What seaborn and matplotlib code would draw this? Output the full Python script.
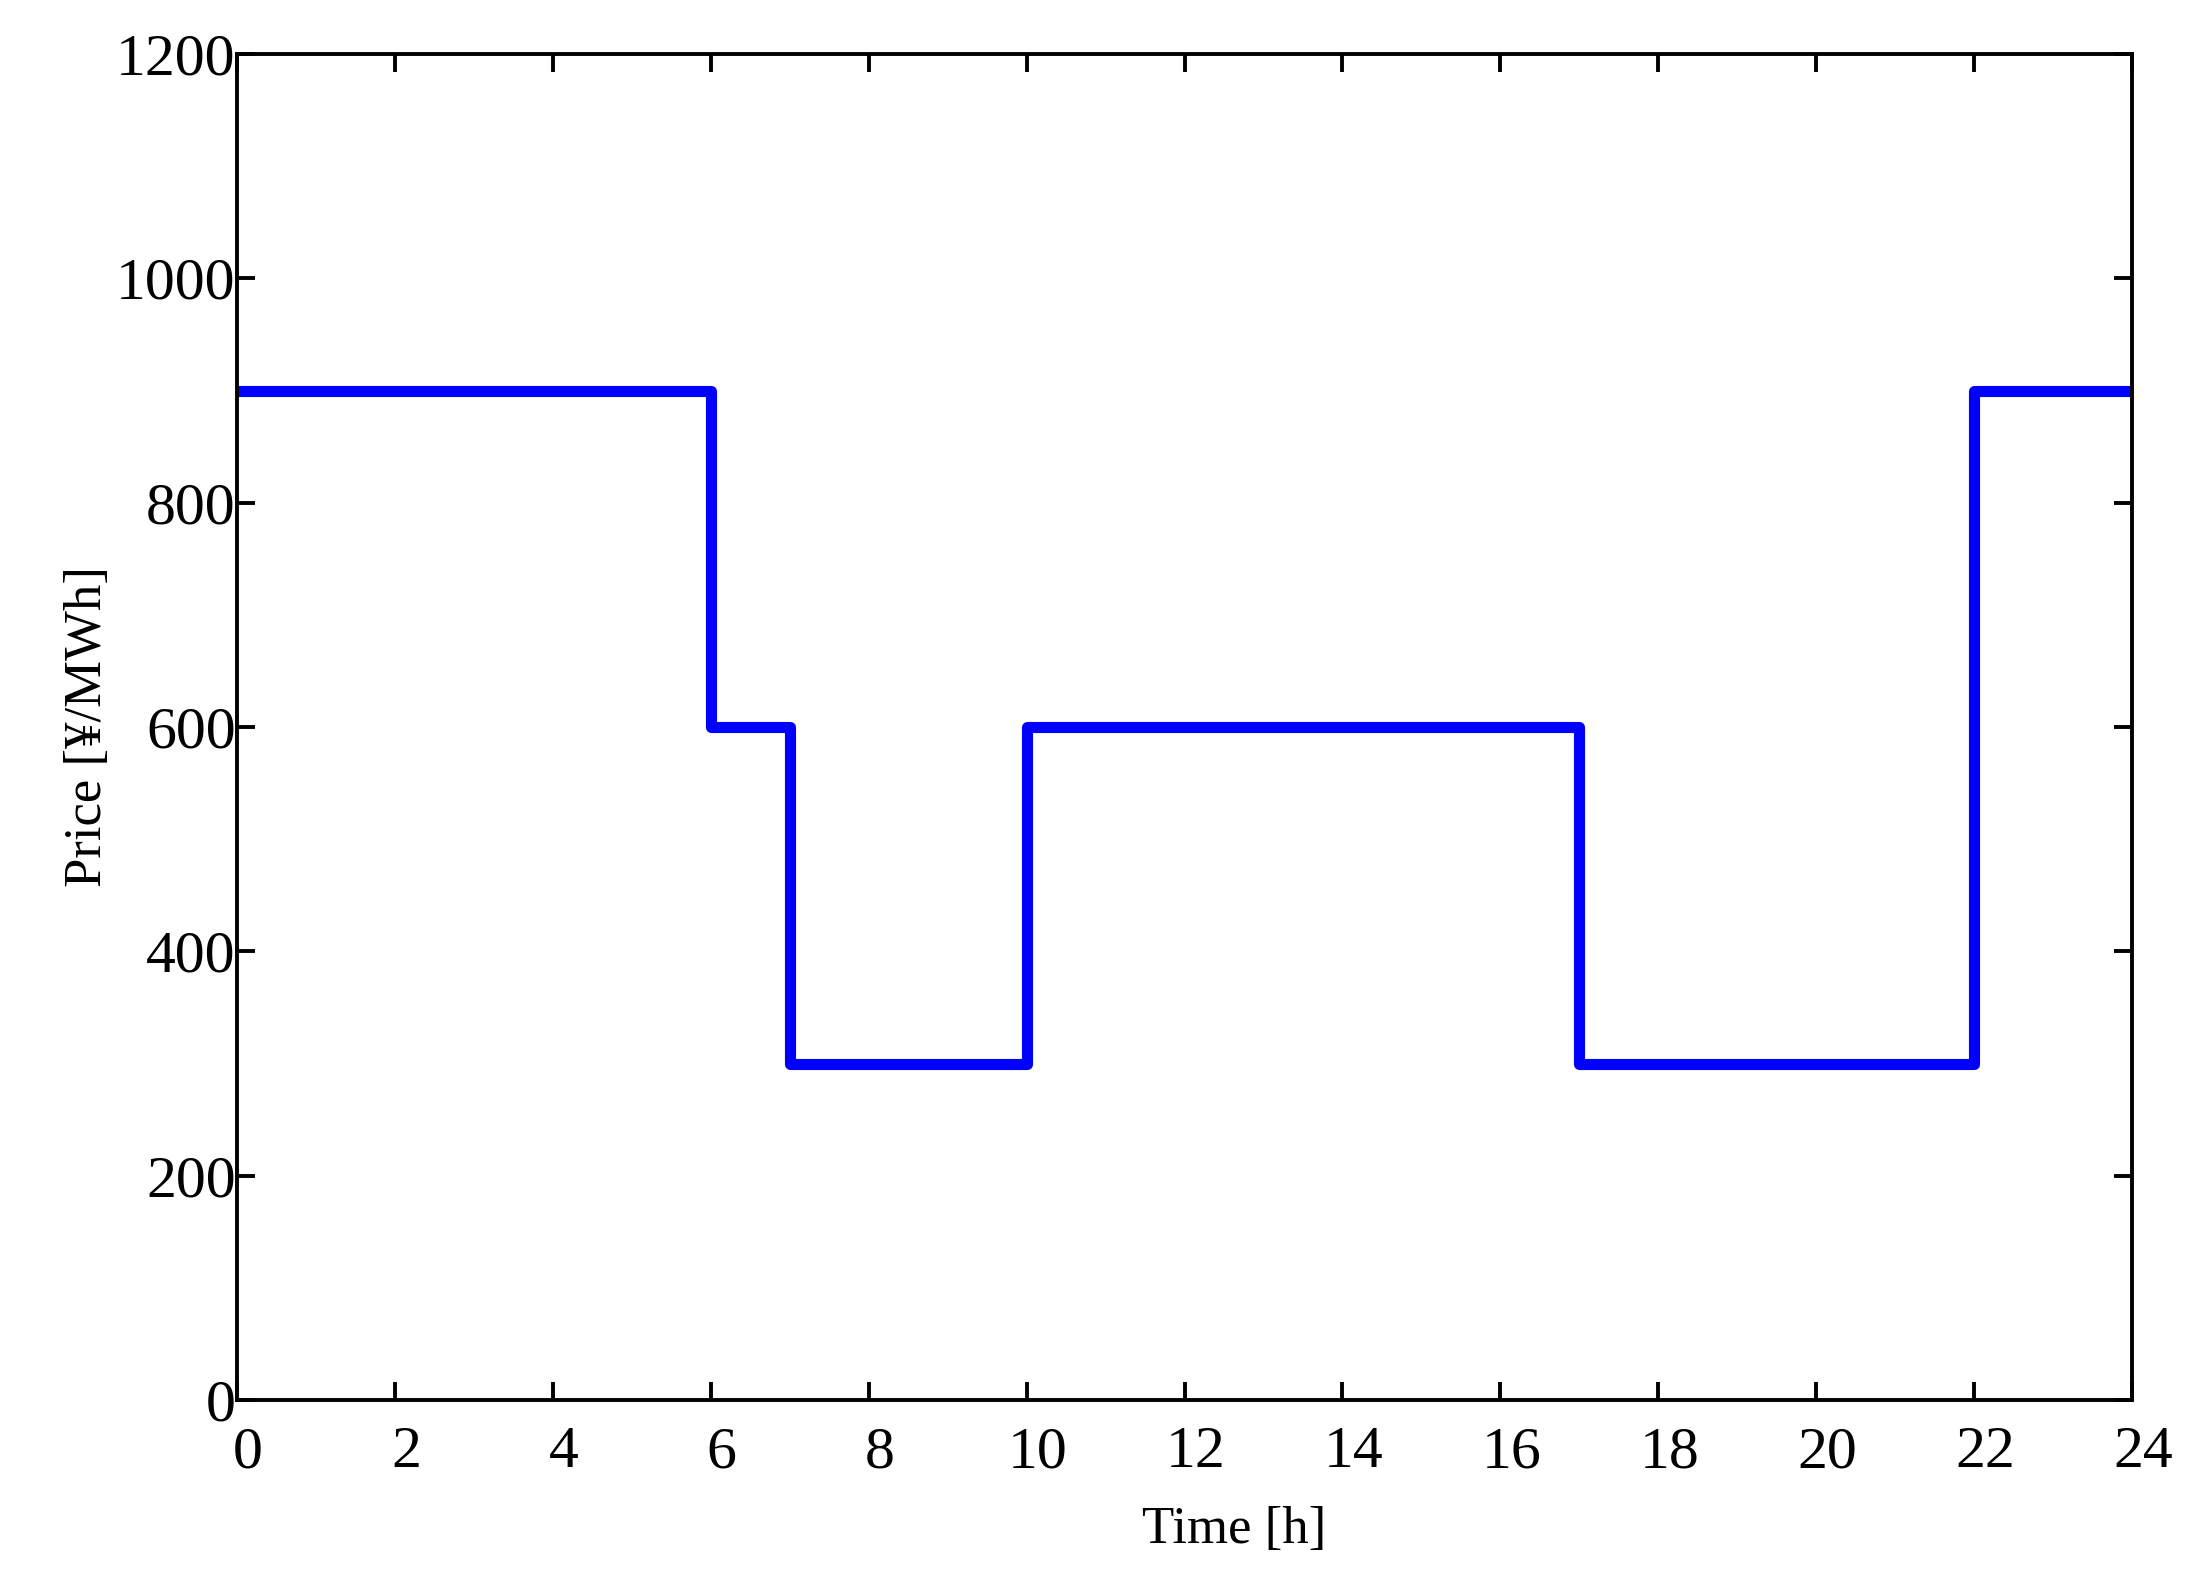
import matplotlib
matplotlib.use("Agg")
import matplotlib.pyplot as plt
import matplotlib.transforms as mtransforms
import seaborn as sns

# Time-of-use price schedule (step changes)
hours = [0, 6, 7, 10, 17, 22, 24]
price = [900, 600, 300, 600, 300, 900, 900]

x_ticks = list(range(0, 25, 2))
y_ticks = list(range(0, 1201, 200))


def main():
    sns.set_style("ticks")
    plt.rcParams["font.family"] = ["Liberation Serif", "DejaVu Serif"]
    plt.rcParams["text.color"] = "black"
    plt.rcParams["axes.labelcolor"] = "black"

    fig = plt.figure(figsize=(22.04, 15.84), dpi=100)
    ax = fig.add_axes([237 / 2204, 1 - 1400 / 1584, (2132 - 237) / 2204, (1400 - 54) / 1584])

    sns.lineplot(x=hours, y=price, ax=ax, drawstyle="steps-post",
                 color="#0000ff", linewidth=8)

    ax.set_xlim(0, 24)
    ax.set_ylim(0, 1200)
    ax.set_xticks(x_ticks)
    ax.set_yticks(y_ticks)

    for side in ["top", "right", "bottom", "left"]:
        ax.spines[side].set_visible(True)
        ax.spines[side].set_linewidth(2.8)
        ax.spines[side].set_color("black")

    ax.tick_params(axis="both", direction="in", length=13, width=2.8,
                   top=True, right=True, labelsize=43, colors="black")
    ax.tick_params(axis="x", pad=19)
    ax.tick_params(axis="y", pad=1)

    # MATLAB-style x tick labels sit a bit right of their ticks
    shift = mtransforms.ScaledTranslation(11 / 100, 0, fig.dpi_scale_trans)
    for lbl in ax.get_xticklabels():
        lbl.set_transform(lbl.get_transform() + shift)

    ax.set_xlabel("Time [h]", fontsize=38, color="black")
    ax.xaxis.set_label_coords(0.526, -0.079)
    ax.set_ylabel("Price [¥/MWh]", fontsize=38, color="black")
    ax.yaxis.set_label_coords(-0.066, 0.5)

    fig.savefig("out.png", dpi=100, facecolor="white")
    plt.close(fig)


if __name__ == "__main__":
    main()
